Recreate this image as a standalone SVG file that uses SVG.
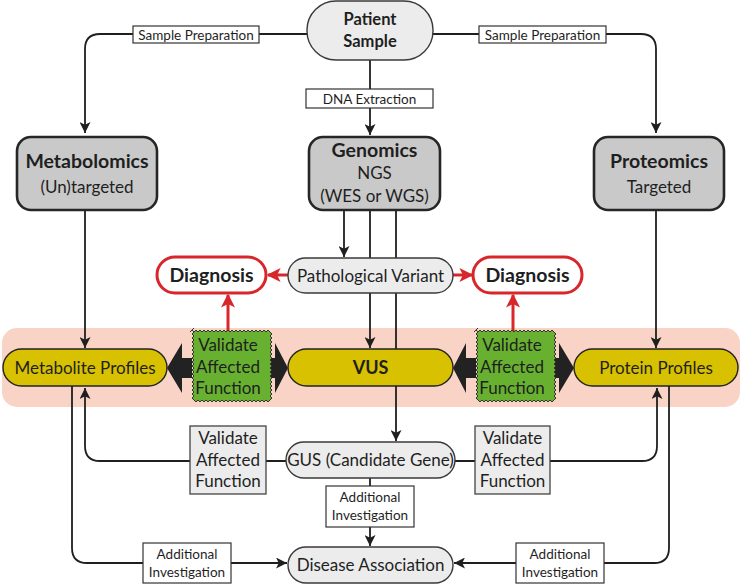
<svg xmlns="http://www.w3.org/2000/svg" xmlns:xlink="http://www.w3.org/1999/xlink" width="742" height="585" viewBox="0 0 742 585">
<style>
text{font-family:Lato,"Open Sans","Liberation Sans",sans-serif;fill:#1f1f1f;text-anchor:middle}
.pill{fill:#ececec;stroke:#3a3a3a;stroke-width:1.4}
.omic{fill:#c9c9c9;stroke:#262626;stroke-width:2.6}
.lbl{fill:#fff;stroke:#333;stroke-width:1.2}
.yel{fill:#d8c100;stroke:#222;stroke-width:1.4}
.diag{fill:#fff;stroke:#d8262b;stroke-width:3}
.gbox{fill:#ececec;stroke:#444;stroke-width:1.3}
.green{fill:#68b130;stroke:#333;stroke-width:1}
.ln{fill:none;stroke:#1f1f1f;stroke-width:1.8}
.red{fill:none;stroke:#d8262b;stroke-width:3}
.big{fill:#222}
.b{font-weight:bold}
.s12{font-size:13.5px}
.s16{font-size:17px}
</style>
<defs>
<marker id="ah" viewBox="0 0 10 10" refX="10" refY="5" markerWidth="11" markerHeight="11" markerUnits="userSpaceOnUse" orient="auto">
<path d="M0,0 L10,5 L0,10 L2.5,5 Z" fill="#1f1f1f"/>
</marker>
<marker id="rh" viewBox="0 0 10 10" refX="9" refY="5" markerWidth="14" markerHeight="14" markerUnits="userSpaceOnUse" orient="auto">
<path d="M0,0 L10,5 L0,10 L2.5,5 Z" fill="#d8262b"/>
</marker>
<path id="zig" d="M0,0 l2,-2 l2,2 l2,-2 l2,2 l2,-2 l2,2 l2,-2 l2,2 l2,-2 l2,2 l2,-2 l2,2 l2,-2 l2,2 l2,-2 l2,2 l2,-2 l2,2 l2,-2 l2,2 l2,-2 l2,2 l2,-2 l2,2 l2,-2 l2,2 l2,-2 l2,2 l2,-2 l2,2 l2,-2 l2,2 l2,-2 l2,2 l2,-2 l2,2 l2,-2 l2,2 l2,-2 l2,2 l2,2 l-2,2 l2,2 l-2,2 l2,2 l-2,2 l2,2 l-2,2 l2,2 l-2,2 l2,2 l-2,2 l2,2 l-2,2 l2,2 l-2,2 l2,2 l-2,2 l2,2 l-2,2 l2,2 l-2,2 l2,2 l-2,2 l2,2 l-2,2 l2,2 l-2,2 l2,2 l-2,2 l2,2 l-2,2 l2,2 l-2,2 l-2,2 l-2,-2 l-2,2 l-2,-2 l-2,2 l-2,-2 l-2,2 l-2,-2 l-2,2 l-2,-2 l-2,2 l-2,-2 l-2,2 l-2,-2 l-2,2 l-2,-2 l-2,2 l-2,-2 l-2,2 l-2,-2 l-2,2 l-2,-2 l-2,2 l-2,-2 l-2,2 l-2,-2 l-2,2 l-2,-2 l-2,2 l-2,-2 l-2,2 l-2,-2 l-2,2 l-2,-2 l-2,2 l-2,-2 l-2,2 l-2,-2 l-2,-2 l2,-2 l-2,-2 l2,-2 l-2,-2 l2,-2 l-2,-2 l2,-2 l-2,-2 l2,-2 l-2,-2 l2,-2 l-2,-2 l2,-2 l-2,-2 l2,-2 l-2,-2 l2,-2 l-2,-2 l2,-2 l-2,-2 l2,-2 l-2,-2 l2,-2 l-2,-2 l2,-2 l-2,-2 l2,-2 l-2,-2 l2,-2 l-2,-2 l2,-2 l-2,-2 l2,-2 l-2,-2 l2,-2 Z"/>
</defs>

<rect id="band" x="2" y="328" width="738" height="79" rx="15" fill="#f9d4c6"/>

<g id="connectors">
<path class="ln" d="M307,34 H100 Q85,34 85,49 V133" marker-end="url(#ah)"/>
<path class="ln" d="M433,34 H641 Q656,34 656,49 V133" marker-end="url(#ah)"/>
<path class="ln" d="M370,60 V135" marker-end="url(#ah)"/>
<path class="ln" d="M344,211 V257" marker-end="url(#ah)"/>
<path class="ln" d="M370,211 V348" marker-end="url(#ah)"/>
<path class="ln" d="M396,211 V441" marker-end="url(#ah)"/>
<path class="ln" d="M85,211 V348" marker-end="url(#ah)"/>
<path class="ln" d="M656,211 V348" marker-end="url(#ah)"/>
<path class="ln" d="M286,461 H100 Q85,461 85,446 V388" marker-end="url(#ah)"/>
<path class="ln" d="M455,461 H642 Q657,461 657,446 V388" marker-end="url(#ah)"/>
<path class="ln" d="M72,386 V548 Q72,563 87,563 H287" marker-end="url(#ah)"/>
<path class="ln" d="M669,386 V548 Q669,563 654,563 H454" marker-end="url(#ah)"/>
<path class="ln" d="M370,478 V546" marker-end="url(#ah)"/>
<path class="red" d="M288,275 H268" marker-end="url(#rh)"/>
<path class="red" d="M453,275 H472" marker-end="url(#rh)"/>
<path class="red" d="M228,332 V295" marker-end="url(#rh)"/>
<path class="red" d="M513,332 V295" marker-end="url(#rh)"/>
<polygon class="big" points="167,368 182,343 182,358 192,358 192,378 182,378 182,393"/>
<polygon class="big" points="265,358 275,358 275,343 288,368 275,393 275,378 265,378"/>
<polygon class="big" points="453,368 466,343 466,358 476,358 476,378 466,378 466,393"/>
<polygon class="big" points="549,358 559,358 559,343 574,368 559,393 559,378 549,378"/>
</g>

<g id="lbl-prep-left"><rect class="lbl" x="133" y="26" width="126" height="17"/><text class="s12" x="196" y="39.5">Sample Preparation</text></g>
<g id="lbl-prep-right"><rect class="lbl" x="479" y="26" width="127" height="17"/><text class="s12" x="542.5" y="39.5">Sample Preparation</text></g>
<g id="lbl-dna"><rect class="lbl" x="306" y="89" width="127" height="19"/><text class="s12" x="369.5" y="103.5">DNA Extraction</text></g>

<g id="patient"><rect class="pill" x="307" y="1" width="126" height="59" rx="29"/><text class="b" font-size="16.5" x="370" y="25">Patient</text><text class="b" font-size="16.5" x="370" y="47">Sample</text></g>

<g id="metabolomics"><rect class="omic" x="17" y="137" width="140" height="73" rx="14"/><text class="b" font-size="19.5" x="87" y="168">Metabolomics</text><text class="s16" x="87" y="193">(Un)targeted</text></g>
<g id="genomics"><rect class="omic" x="309" y="137" width="131" height="73" rx="14"/><text class="b" font-size="19.5" x="374.5" y="157">Genomics</text><text class="s16" x="374.5" y="179">NGS</text><text class="s16" x="374.5" y="202">(WES or WGS)</text></g>
<g id="proteomics"><rect class="omic" x="594" y="137" width="130" height="73" rx="14"/><text class="b" font-size="19.5" x="659" y="168">Proteomics</text><text class="s16" x="659" y="193">Targeted</text></g>

<g id="pathological"><rect class="pill" x="288" y="258" width="165" height="35" rx="17.5"/><text class="s16" x="370.5" y="281.5">Pathological Variant</text></g>
<g id="diagnosis-left"><rect class="diag" x="157" y="257" width="109" height="36" rx="18"/><text class="b" font-size="19.5" x="211.5" y="282">Diagnosis</text></g>
<g id="diagnosis-right"><rect class="diag" x="473" y="257" width="109" height="36" rx="18"/><text class="b" font-size="19.5" x="527.5" y="282">Diagnosis</text></g>

<g id="metabolite-profiles"><rect class="yel" x="3" y="349" width="164" height="37" rx="18.5"/><text class="s16" x="85" y="373.5">Metabolite Profiles</text></g>
<g id="vus"><rect class="yel" x="288" y="349" width="165" height="37" rx="18.5"/><text class="b" font-size="18" x="370.5" y="374">VUS</text></g>
<g id="protein-profiles"><rect class="yel" x="574" y="349" width="164" height="37" rx="18.5"/><text class="s16" x="656" y="373.5">Protein Profiles</text></g>

<g id="validate-green-left"><use xlink:href="#zig" class="green" transform="translate(190,332)"/><text class="s16" x="228" y="351">Validate</text><text class="s16" x="228" y="373">Affected</text><text class="s16" x="228" y="394">Function</text></g>
<g id="validate-green-right"><use xlink:href="#zig" class="green" transform="translate(474,332)"/><text class="s16" x="512" y="351">Validate</text><text class="s16" x="512" y="373">Affected</text><text class="s16" x="512" y="394">Function</text></g>

<g id="validate-gray-left"><rect class="gbox" x="190" y="426" width="76" height="68"/><text class="s16" x="228" y="444">Validate</text><text class="s16" x="228" y="466">Affected</text><text class="s16" x="228" y="487">Function</text></g>
<g id="validate-gray-right"><rect class="gbox" x="475" y="426" width="75" height="68"/><text class="s16" x="512.5" y="444">Validate</text><text class="s16" x="512.5" y="466">Affected</text><text class="s16" x="512.5" y="487">Function</text></g>

<g id="gus"><rect class="pill" x="286" y="442" width="169" height="36" rx="18"/><text class="s16" x="370.5" y="466">GUS (Candidate Gene)</text></g>
<g id="lbl-add-center"><rect class="lbl" x="326" y="486" width="88" height="41"/><text class="s12" x="370" y="502">Additional</text><text class="s12" x="370" y="520">Investigation</text></g>
<g id="lbl-add-left"><rect class="lbl" x="143" y="543" width="88" height="40"/><text class="s12" x="187" y="558.5">Additional</text><text class="s12" x="187" y="576.5">Investigation</text></g>
<g id="lbl-add-right"><rect class="lbl" x="516" y="543" width="88" height="40"/><text class="s12" x="560" y="558.5">Additional</text><text class="s12" x="560" y="576.5">Investigation</text></g>
<g id="disease"><rect class="pill" x="288" y="547" width="165" height="36" rx="18"/><text class="s16" x="370.5" y="571">Disease Association</text></g>
</svg>
